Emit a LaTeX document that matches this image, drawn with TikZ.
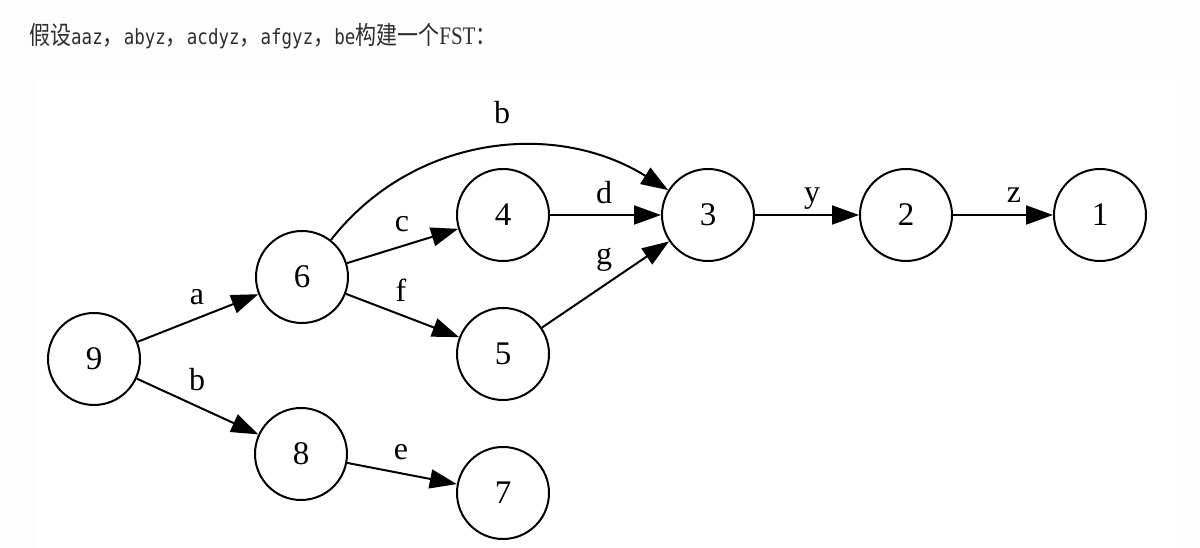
\documentclass[tikz,border=0pt]{standalone}
\usepackage{fontspec}
\usepackage{graphicx}
\setmainfont{Liberation Serif}
\newfontfamily\cjkfont{Noto Sans CJK SC}
\newfontfamily\codefont{DejaVu Sans Mono}
\usetikzlibrary{arrows.meta}

% inline code words in the heading
\newcommand\codeword[1]{{\codefont\fontsize{17.5}{17.5}\selectfont #1}}

\begin{document}
\begin{tikzpicture}[x=1pt,y=1pt,
  state/.style={circle, draw, line width=2pt, minimum size=92pt, inner sep=0pt,
                font=\fontsize{33}{33}\selectfont},
  edge/.style={line width=2pt, -{Triangle[length=27pt,width=19pt]}},
  lab/.style={anchor=base, inner sep=0pt, font=\fontsize{32}{32}\selectfont}]

% page and figure panel
\fill[gray!1.5] (0,0) rectangle (1200,548);
\fill[white] (38,0) rectangle (1177,468);
\useasboundingbox (0,0) rectangle (1200,548);

% heading
\node[anchor=base west, inner sep=0pt, text=black!82] (title) at (29,503)
  {\scalebox{1}[1.2]{\fontsize{21}{21}\selectfont\cjkfont 假设\codeword{aaz}，\codeword{abyz}，\codeword{acdyz}，\codeword{afgyz}，\codeword{be}构建一个{\rmfamily FST}：}};

% states
\node[state] (n9) at (94,189) {9};
\node[state] (n6) at (302,271) {6};
\node[state] (n8) at (301,94) {8};
\node[state] (n4) at (503,333) {4};
\node[state] (n5) at (503,194) {5};
\node[state] (n7) at (503,55) {7};
\node[state] (n3) at (708,333) {3};
\node[state] (n2) at (906,333) {2};
\node[state] (n1) at (1100,333) {1};

% transitions
\draw[edge] (n9) -- (n6);
\draw[edge] (n9) -- (n8);
\draw[edge] (n6) -- (n4);
\draw[edge] (n6) -- (n5);
\draw[edge] (n8) -- (n7);
\draw[edge] (n4) -- (n3);
\draw[edge] (n5) -- (n3);
\draw[edge] (n6.52) to[out=52,in=148] (n3.148);
\draw[edge] (n3) -- (n2);
\draw[edge] (n2) -- (n1);

% transition labels
\node[lab] (la) at (197,243) {a};
\node[lab] (lb1) at (197,157) {b};
\node[lab] (lc) at (402,316) {c};
\node[lab] (lf) at (401,246) {f};
\node[lab] (le) at (401,88) {e};
\node[lab] (ld) at (604,344) {d};
\node[lab] (lg) at (604,283) {g};
\node[lab] (lb2) at (502,424) {b};
\node[lab] (ly) at (812,345) {y};
\node[lab] (lz) at (1014,345) {z};
\end{tikzpicture}
\end{document}
